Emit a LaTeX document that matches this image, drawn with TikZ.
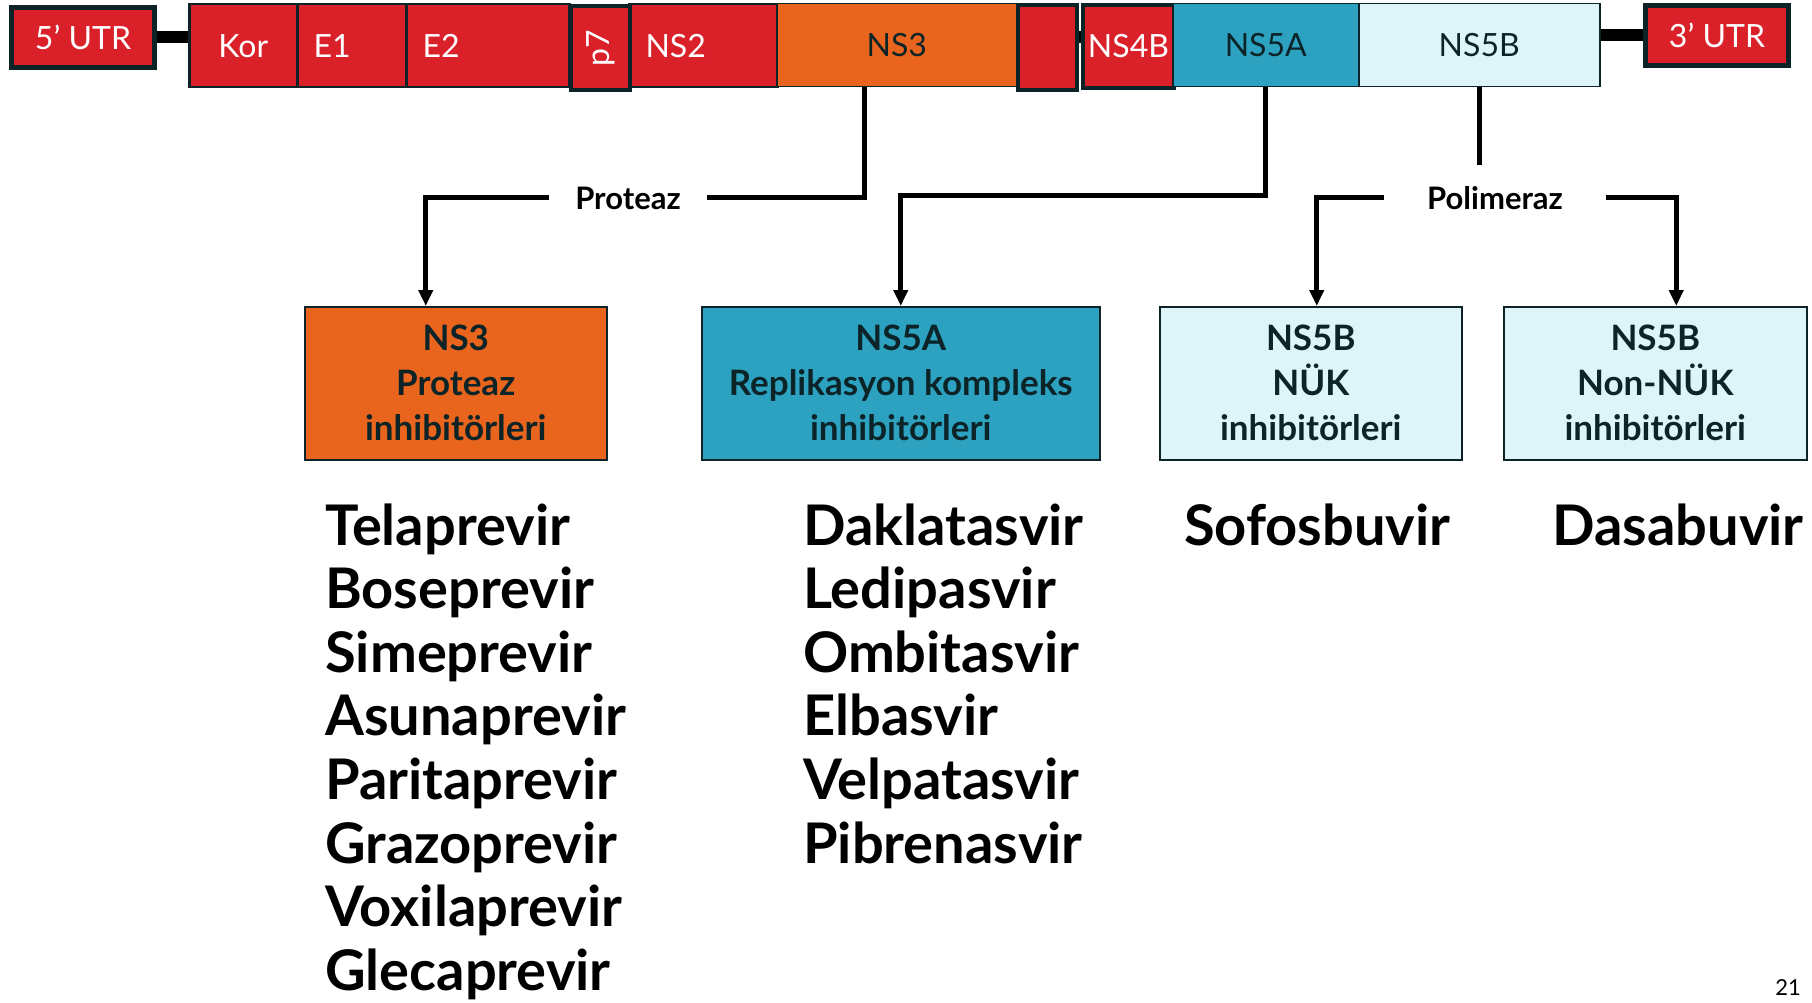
\documentclass[tikz,border=0pt]{standalone}
\usepackage{fontspec}
\setmainfont{Lato}
\usetikzlibrary{
  positioning,
  arrows.meta,
}
\definecolor{genred}{RGB}{218,32,40}
\definecolor{genorange}{RGB}{233,101,30}
\definecolor{genteal}{RGB}{44,162,192}
\definecolor{genpale}{RGB}{222,244,248}
\definecolor{edge}{RGB}{12,36,40}
\tikzset{
  >={Triangle[length=16pt,width=14pt]},
  seg/.style={
    rectangle,
    anchor=north west,
    inner sep=0pt,
    draw=edge,
    line width=2.5pt,
    minimum height=83pt,
    font=\fontsize{32}{36}\selectfont,
  },
  redseg/.style={seg, fill=genred, text=white},
  thickseg/.style={redseg, line width=4pt},
  utr/.style={thickseg, line width=5pt, minimum width=143pt, minimum height=60pt},
  segtext/.style={anchor=west, xshift=14pt, text=white, font=\fontsize{32}{36}\selectfont},
  target/.style={
    rectangle,
    anchor=north west,
    draw=edge,
    line width=1.5pt,
    minimum height=153pt,
    align=center,
    text=edge,
    font=\bfseries\fontsize{35}{45}\selectfont,
  },
  tag/.style={fill=white, inner xsep=0pt, font=\bfseries\fontsize{31}{34}\selectfont},
  drug/.style={anchor=base west, inner sep=0pt, font=\bfseries\fontsize{56}{60}\selectfont},
  link/.style={line width=5pt, black},
  bar/.style={line width=12pt, black},
}
\begin{document}
\begin{tikzpicture}[x=1pt, y=-1pt]
  \fill[white] (0,0) rectangle (1812,1003);
  \useasboundingbox (0,0) rectangle (1812,1003);

  % genome
  \node[utr] (utr5) at (9,5) {5’ UTR};
  \node[redseg, minimum width=108pt] (kor) at (188,3) {Kor};
  \node[redseg, minimum width=109pt, label={[segtext]west:E1}] (e1) at (296,3) {};
  \node[redseg, minimum width=163pt, label={[segtext]west:E2}] (e2) at (405,3) {};
  \node[redseg, minimum width=148pt, label={[segtext]west:NS2}] (ns2) at (628,3) {};
  \node[thickseg, minimum width=84pt, minimum height=59pt, rotate=90, anchor=north east] (p7) at (569,4) {p7};
  \node[seg, line width=1.5pt, fill=genorange, text=edge, minimum width=240pt] (ns3seg) at (776,3) {NS3};
  \node[thickseg, minimum width=59pt, minimum height=85pt] (ns4a) at (1016,3) {};
  \node[thickseg, minimum width=91pt] (ns4b) at (1081,3) {NS4B};
  \node[seg, line width=1.5pt, fill=genteal, text=edge, minimum width=186pt] (ns5aseg) at (1172,3) {NS5A};
  \node[seg, line width=1.5pt, fill=genpale, text=edge, minimum width=241pt] (ns5bseg) at (1358,3) {NS5B};
  \node[utr] (utr3) at (1643,3) {3’ UTR};
  \draw[bar] (utr5.east) -- (utr5.east -| kor.west);
  \draw[bar] (ns4a.east |- utr5.east) -- (ns4b.west |- utr5.east);
  \draw[bar] (ns5bseg.east |- utr3.west) -- (utr3.west);

  % targets
  \node[target, fill=genorange, minimum width=302pt] (ns3box) at (304,306)
    {NS3\\Proteaz\\inhibitörleri};
  \node[target, fill=genteal, minimum width=398pt] (ns5abox) at (701,306)
    {NS5A\\Replikasyon kompleks\\inhibitörleri};
  \node[target, fill=genpale, minimum width=302pt] (nukbox) at (1159,306)
    {NS5B\\NÜK\\inhibitörleri};
  \node[target, fill=genpale, minimum width=303pt] (nonnukbox) at (1503,306)
    {NS5B\\Non-NÜK\\inhibitörleri};

  \node[tag, minimum width=157pt] (proteaz) at (628,198) {Proteaz};
  \node[tag, minimum width=222pt] (polimeraz) at (1495,198) {Polimeraz};

  \draw[link] ([xshift=-32pt]ns3seg.south) |- (proteaz.east);
  \draw[link,->] (proteaz.west) -| ([xshift=-30pt]ns3box.north);
  \draw[link,->] (ns5aseg.south) -- ++(0,108) -| (ns5abox.north);
  \draw[link] (ns5bseg.south) -- ++(0,78);
  \draw[link,->] (polimeraz.west) -| ([xshift=6pt]nukbox.north);
  \draw[link,->] (polimeraz.east) -| ([xshift=21pt]nonnukbox.north);

  % drugs
  \foreach \d [count=\i from 0] in {Telaprevir, Boseprevir, Simeprevir, Asunaprevir,
      Paritaprevir, Grazoprevir, Voxilaprevir, Glecaprevir}
    \node[drug] (pi\i) at (325,545+63.6*\i) {\d};
  \foreach \d [count=\i from 0] in {Daklatasvir, Ledipasvir, Ombitasvir, Elbasvir,
      Velpatasvir, Pibrenasvir}
    \node[drug] (ai\i) at (803,545+63.6*\i) {\d};
  \node[drug] (sofos) at (1184,545) {Sofosbuvir};
  \node[drug] (dasa) at (1552,545) {Dasabuvir};

  \node[font=\fontsize{22}{24}\selectfont] (page) at (1788,988) {21};
\end{tikzpicture}
\end{document}
